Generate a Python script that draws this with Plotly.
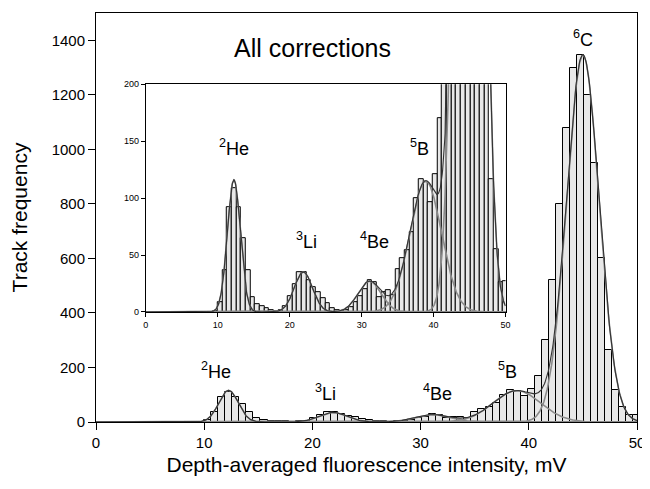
import numpy as np
import plotly.graph_objects as go

# histogram: bin k covers [bin_start + k*bin_width, bin_start + (k+1)*bin_width]
bin_start = 0.25
bin_width = 0.65
counts = [0]*14 + [
    1, 9, 37, 92, 109, 92, 65, 37, 13, 7, 5, 3, 2, 1,
    2, 5, 14, 24, 35, 35, 28, 22, 17, 12, 8, 3, 2, 1,
    2, 4, 9, 14, 20, 28, 26, 13, 17, 19, 15, 38, 47, 54, 70, 100, 117, 114, 96, 121,
    170, 300, 520, 800, 1080, 1300, 1345, 1200, 950, 600, 264, 117, 55, 26, 27]

# Gaussian fit components
peak_names = ["He", "Li", "Be", "B", "C"]
peak_amp = [116, 35, 27, 115, 1345]
peak_mean = [12.25, 21.9, 31.1, 38.9, 45.0]
peak_sigma = [0.9, 1.27, 1.6, 2.2, 1.5]

centers = [bin_start + bin_width*(k+0.5) for k in range(len(counts))]
xs = np.linspace(0, 50, 1001)
comps = [a*np.exp(-(xs-m)**2/(2*s**2)) for a, m, s in zip(peak_amp, peak_mean, peak_sigma)]
total = np.sum(comps, axis=0)

FONT = "Liberation Sans, Arial, sans-serif"
fig = go.Figure()
for xa, ya in [("x", "y"), ("x2", "y2")]:
    fig.add_trace(go.Bar(x=centers, y=counts, width=bin_width, xaxis=xa, yaxis=ya,
                         marker=dict(color="#e8e8e8", line=dict(color="black", width=1)),
                         showlegend=False))
    for c in comps:
        fig.add_trace(go.Scatter(x=xs, y=c, mode="lines", xaxis=xa, yaxis=ya,
                                 line=dict(color="#8a8a8a", width=1.6), showlegend=False))
    fig.add_trace(go.Scatter(x=xs, y=total, mode="lines", xaxis=xa, yaxis=ya,
                             line=dict(color="#333333", width=1.1), showlegend=False))

axis_common = dict(showgrid=False, zeroline=False, showline=True, linecolor="black",
                   linewidth=1, mirror=True, ticks="outside", tickcolor="black",
                   automargin=False)
fig.update_layout(
    width=642, height=481, margin=dict(l=88, r=13, t=5, b=67),
    paper_bgcolor="white", plot_bgcolor="white", bargap=0,
    font=dict(family=FONT, color="black"),
    xaxis=dict(range=[0, 50], tickvals=[0, 10, 20, 30, 40, 50], ticklen=7,
               tickfont=dict(size=15), domain=[0, 1],
               title=dict(text="Depth-averaged fluorescence intensity, mV", font=dict(size=21), standoff=7),
               **axis_common),
    yaxis=dict(range=[0, 1500], tickvals=list(range(0, 1401, 200)), ticklen=7,
               tickfont=dict(size=15), domain=[0, 1],
               title=dict(text="Track frequency", font=dict(size=21), standoff=20),
               **axis_common),
    xaxis2=dict(range=[0, 50], tickvals=[0, 10, 20, 30, 40, 50], ticklen=4, anchor="y2",
                tickfont=dict(size=9), domain=[0.092, 0.757], **axis_common),
    yaxis2=dict(range=[0, 200], tickvals=[0, 50, 100, 150, 200], ticklen=4, anchor="x2",
                tickfont=dict(size=9), domain=[0.269, 0.826], **axis_common),
)

main_labels = [("All corrections", 20.0, 1372, 25),
               ("<sup>6</sup>C", 45.0, 1405, 18),
               ("<sup>2</sup>He", 11.1, 190, 18),
               ("<sup>3</sup>Li", 21.2, 110, 18),
               ("<sup>4</sup>Be", 31.6, 110, 18),
               ("<sup>5</sup>B", 38.0, 190, 18)]
for t, x, y, s in main_labels:
    fig.add_annotation(text=t, x=x, y=y, xref="x", yref="y", showarrow=False,
                       font=dict(size=s, family=FONT))
inset_labels = [("<sup>2</sup>He", 12.3, 144), ("<sup>3</sup>Li", 22.3, 63),
                ("<sup>4</sup>Be", 31.8, 63), ("<sup>5</sup>B", 38.1, 144)]
for t, x, y in inset_labels:
    fig.add_annotation(text=t, x=x, y=y, xref="x2", yref="y2", showarrow=False,
                       font=dict(size=18, family=FONT))

fig.write_html("out.html")
